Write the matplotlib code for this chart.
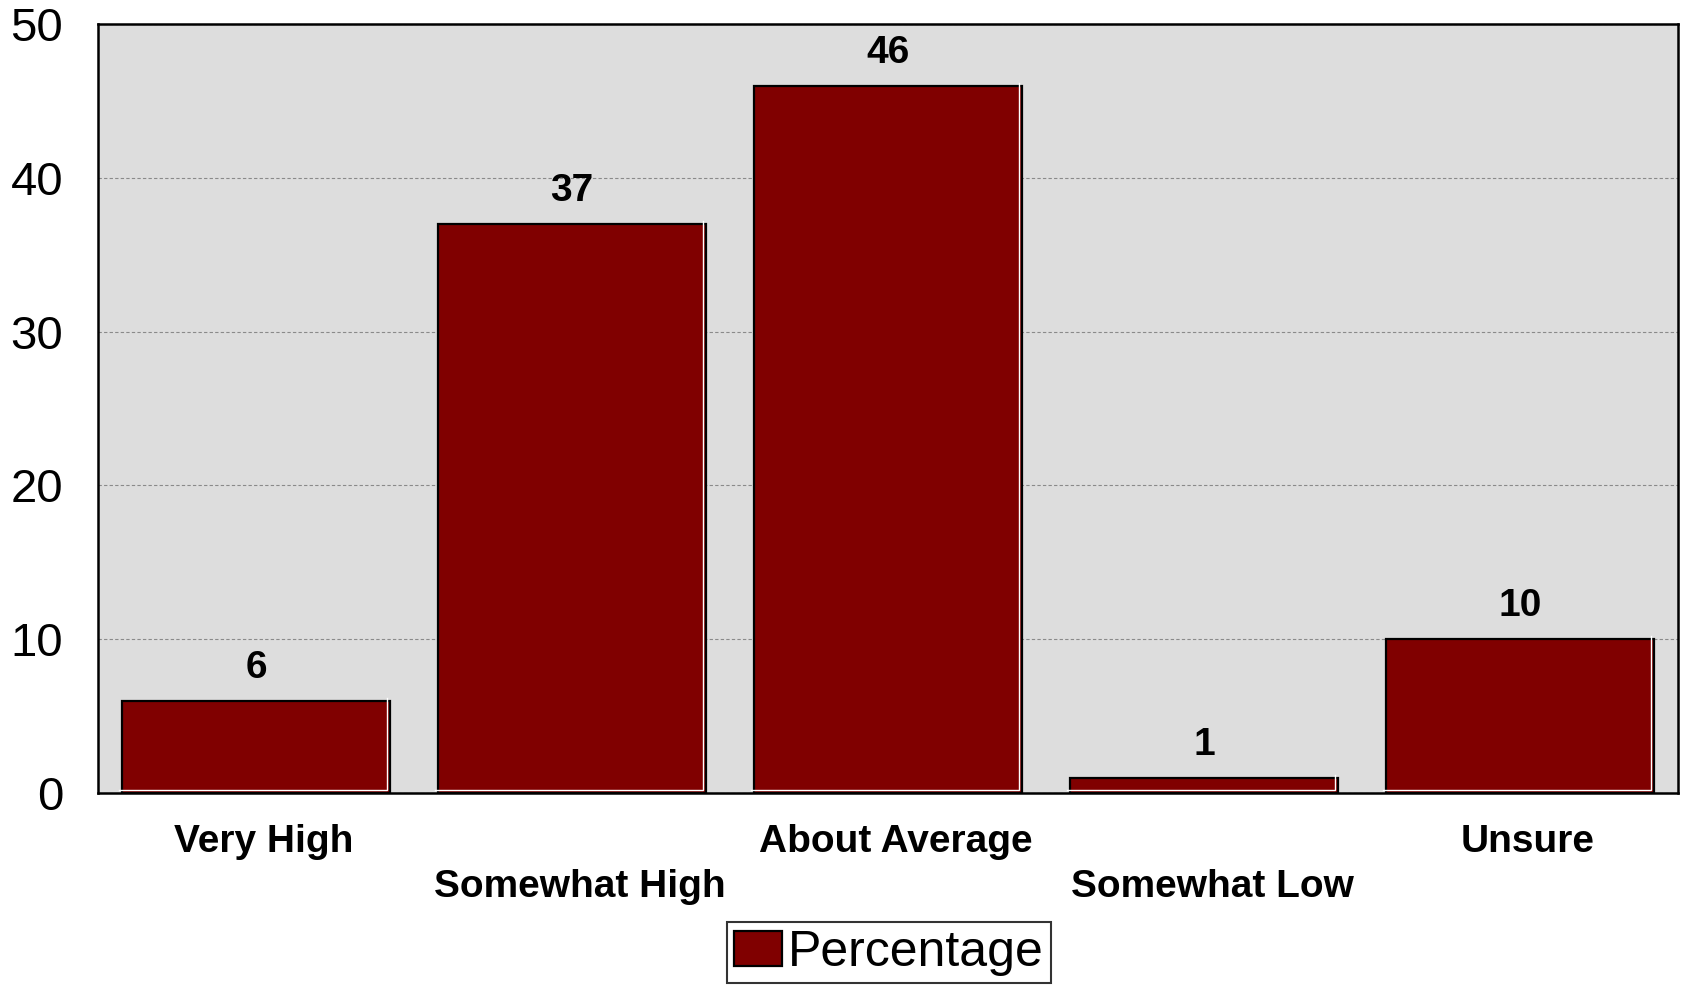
import matplotlib
matplotlib.use("Agg")
import matplotlib.pyplot as plt
from matplotlib.transforms import offset_copy

categories = ["Very High", "Somewhat High", "About Average", "Somewhat Low", "Unsure"]
values = [6, 37, 46, 1, 10]
yticks = [0, 10, 20, 30, 40, 50]
series_name = "Percentage"

plt.rcParams['font.family'] = ['Liberation Sans', 'DejaVu Sans']

fig = plt.figure(figsize=(16.82, 9.88), dpi=100)
ax = fig.add_axes([98/1682, 1 - 793/988, 1580/1682, (793-24)/988])
ax.set_facecolor('#DDDDDD')

x = list(range(len(categories)))
bars = ax.bar(x, values, width=0.85, color='#800000', edgecolor='black',
              linewidth=1.6, label=series_name, zorder=3)

# subtle white inner highlight on right and bottom edges of each bar
hl = offset_copy(ax.transData, fig=fig, x=-3, y=3, units='dots')
for b in bars:
    x0, x1 = b.get_x(), b.get_x() + b.get_width()
    h = b.get_height()
    ax.plot([x0, x1, x1], [0, 0, h], transform=hl, color='white',
            linewidth=1.0, zorder=4, clip_on=False, solid_joinstyle='miter')

ax.set_xlim(-0.5, len(categories) - 0.5)
ax.set_ylim(0, 50)
ax.set_yticks(yticks)
ax.set_yticklabels([str(t) for t in yticks], fontsize=34)
ax.tick_params(axis='y', length=0, pad=25)
ax.tick_params(axis='x', length=0)
ax.set_xticks([])

ax.grid(axis='y', linestyle=(0, (3, 2)), color='#8a8a8a', linewidth=0.8, zorder=1)
ax.set_axisbelow(True)
for s in ax.spines.values():
    s.set_linewidth(1.8)
    s.set_color('black')

for xi, v in zip(x, values):
    ax.annotate(str(v), xy=(xi, v), xytext=(0, 33), textcoords='offset pixels',
                ha='center', va='center', fontsize=28, fontweight='bold', zorder=4)

for i, (xi, lab) in enumerate(zip(x, categories)):
    off = 59 if i % 2 == 0 else 104
    ax.annotate(lab, xy=(xi, 0), xycoords=('data', 'axes fraction'),
                xytext=(8, -off), textcoords='offset pixels',
                ha='center', va='baseline', fontsize=28, fontweight='bold')

leg = fig.legend(handles=[bars], labels=[series_name], loc='upper center',
                 bbox_to_anchor=(889/1682, 1 - 922/988), fontsize=36,
                 frameon=True, fancybox=False, edgecolor='black',
                 handlelength=0.95, handleheight=0.7, handletextpad=0.12,
                 borderpad=0.15, borderaxespad=0)
leg.get_frame().set_linewidth(1.5)

fig.savefig("out.png", dpi=100)
